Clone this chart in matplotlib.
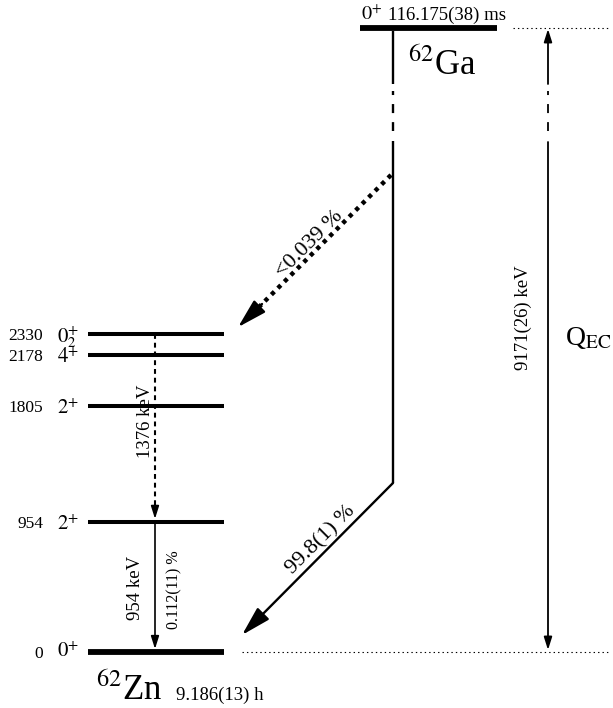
import matplotlib
matplotlib.use("Agg")
import matplotlib.pyplot as plt

plt.rcParams['font.family'] = ['Liberation Serif', 'DejaVu Serif']
plt.rcParams['mathtext.fontset'] = 'stix'
plt.rcParams['lines.scale_dashes'] = False

# ---------------- data ----------------
zn_energies = [0, 954, 1805, 2178, 2330]
zn_spins = [r'$0^{+}$', r'$2^{+}$', r'$2^{+}$', r'$4^{+}$', r'$0_{2}^{+}$']
zn_labels = ['0', '954', '1805', '2178', '2330']
ga_spin = r'$0^{+}$'
ga_halflife = '116.175(38) ms'
zn_halflife = '9.186(13) h'
q_ec_label = '9171(26) keV'
gamma_transitions = [(2330, 954, '1376 keV', ''), (954, 0, '954 keV', '0.112(11) %')]
feedings = [(2330, '<0.039 %'), (0, '99.8(1) %')]

# ---------------- layout ----------------
PX = 0.1364                     # pixels per keV of the drawing
def ypx(p):
    return (652 - p) / PX
def dpx(p):
    return p / PX

GA_DRAW = ypx(28)               # Ga level drawn on a broken scale

fig = plt.figure(figsize=(6.13, 7.08), dpi=100)
ax = fig.add_axes([0, 0, 1, 1])
ax.set_xlim(0, 613)
ax.set_ylim(ypx(708), ypx(0))
ax.axis('off')

ZN_X0, ZN_X1 = 88, 224
GA_X0, GA_X1 = 360, 497

# Zn levels
for e, sp, lab in zip(zn_energies, zn_spins, zn_labels):
    lw = 4.2 if e == 0 else 2.9
    ax.plot([ZN_X0, ZN_X1], [e, e], color='black', lw=lw, solid_capstyle='butt')
    ax.text(43, e, lab, ha='right', va='center_baseline', fontsize=12.5)
    off = 5 if e == 0 else 8.5
    ax.text(57, e - dpx(off), sp, ha='left', va='baseline', fontsize=15)

# Ga level
ax.plot([GA_X0, GA_X1], [GA_DRAW, GA_DRAW], color='black', lw=4.2, solid_capstyle='butt')
ax.text(361, ypx(20), ga_spin, ha='left', va='baseline', fontsize=14.5)
ax.text(388, ypx(20), ga_halflife, ha='left', va='baseline', fontsize=13.5)
ax.text(408, ypx(75), r'$^{62}$Ga', ha='left', va='baseline', fontsize=25)
ax.text(96, ypx(700), r'$^{62}$Zn', ha='left', va='baseline', fontsize=25)
ax.text(176, ypx(700), zn_halflife, ha='left', va='baseline', fontsize=13.5)

# reference dotted lines
ax.plot([513, 610], [GA_DRAW, GA_DRAW], color='black', lw=0.8, ls=(0, (1, 2.2)))
ax.plot([242, 610], [0, 0], color='black', lw=0.8, ls=(0, (1, 2.2)))

BREAK_LS = (0, (2.9, 6.5, 6.5, 6.5, 6.5, 50))

def broken_vertical(x, lw, top_arrow=False):
    if not top_arrow:
        ax.plot([x, x], [GA_DRAW - dpx(3), ypx(84)], color='black', lw=lw, solid_capstyle='butt')
    ax.plot([x, x], [ypx(91), ypx(131)], color='black', lw=lw, ls=BREAK_LS,
            dash_capstyle='butt')

SMALL_HEAD = '-|>,head_length=0.38,head_width=0.12'

# Q_EC arrow
QX = 548
broken_vertical(QX, 1.3, top_arrow=True)
ax.annotate('', xy=(QX, ypx(29)), xytext=(QX, ypx(84)),
            arrowprops=dict(arrowstyle=SMALL_HEAD, mutation_scale=20, lw=1.3,
                            color='black', shrinkA=0, shrinkB=0))
ax.annotate('', xy=(QX, dpx(2)), xytext=(QX, ypx(142)),
            arrowprops=dict(arrowstyle=SMALL_HEAD, mutation_scale=20, lw=1.3,
                            color='black', shrinkA=0, shrinkB=0))
ax.text(523, ypx(318), q_ec_label, rotation=90, ha='center', va='center', fontsize=13.5)
ax.text(565, ypx(338), r'Q$_{\mathrm{EC}}$', ha='left', va='center', fontsize=20)

# Ga decay line
GX = 393
broken_vertical(GX, 1.7)
BEND = ypx(483)
ax.plot([GX, GX], [ypx(141), BEND], color='black', lw=1.7, solid_capstyle='butt')

BIG_HEAD = '-|>,head_length=0.9,head_width=0.25'
for target, lab in feedings:
    if target == 0:
        ax.annotate('', xy=(242, target + dpx(17)), xytext=(GX, BEND),
                    arrowprops=dict(arrowstyle=BIG_HEAD, mutation_scale=20, lw=1.7,
                                    color='black', shrinkA=0, shrinkB=0))
        ax.text(321, ypx(540), lab, rotation=45, ha='center', va='center', fontsize=16)
    else:
        ax.plot([391, 258], [ypx(175), ypx(308)], color='black', lw=3.2,
                ls=(0, (3.0, 3.6)))
        ax.annotate('', xy=(238, target + dpx(7)), xytext=(262, ypx(304)),
                    arrowprops=dict(arrowstyle=BIG_HEAD, mutation_scale=20, lw=1.7,
                                    color='black', shrinkA=0, shrinkB=0))
        ax.text(309, ypx(244), lab, rotation=45, ha='center', va='center', fontsize=16)

# gamma transitions
TX = 155
for ei, ef, lab_e, lab_i in gamma_transitions:
    if lab_i:
        ax.annotate('', xy=(TX, ef + dpx(3)), xytext=(TX, ei),
                    arrowprops=dict(arrowstyle=SMALL_HEAD, mutation_scale=20, lw=1.2,
                                    color='black', shrinkA=0, shrinkB=0))
        ax.text(135, ypx(588), lab_e, rotation=90, ha='center', va='center', fontsize=13.5)
        ax.text(174, ypx(590), lab_i, rotation=90, ha='center', va='center', fontsize=11.5)
    else:
        ax.plot([TX, TX], [ei, ef + dpx(10)], color='black', lw=1.5, ls=(0, (3.5, 2.8)))
        ax.annotate('', xy=(TX, ef + dpx(3)), xytext=(TX, ef + dpx(14)),
                    arrowprops=dict(arrowstyle=SMALL_HEAD, mutation_scale=20, lw=1.2,
                                    color='black', shrinkA=0, shrinkB=0))
        ax.text(145, ypx(421), lab_e, rotation=90, ha='center', va='center', fontsize=13.5)

fig.savefig('out.png', dpi=100)
